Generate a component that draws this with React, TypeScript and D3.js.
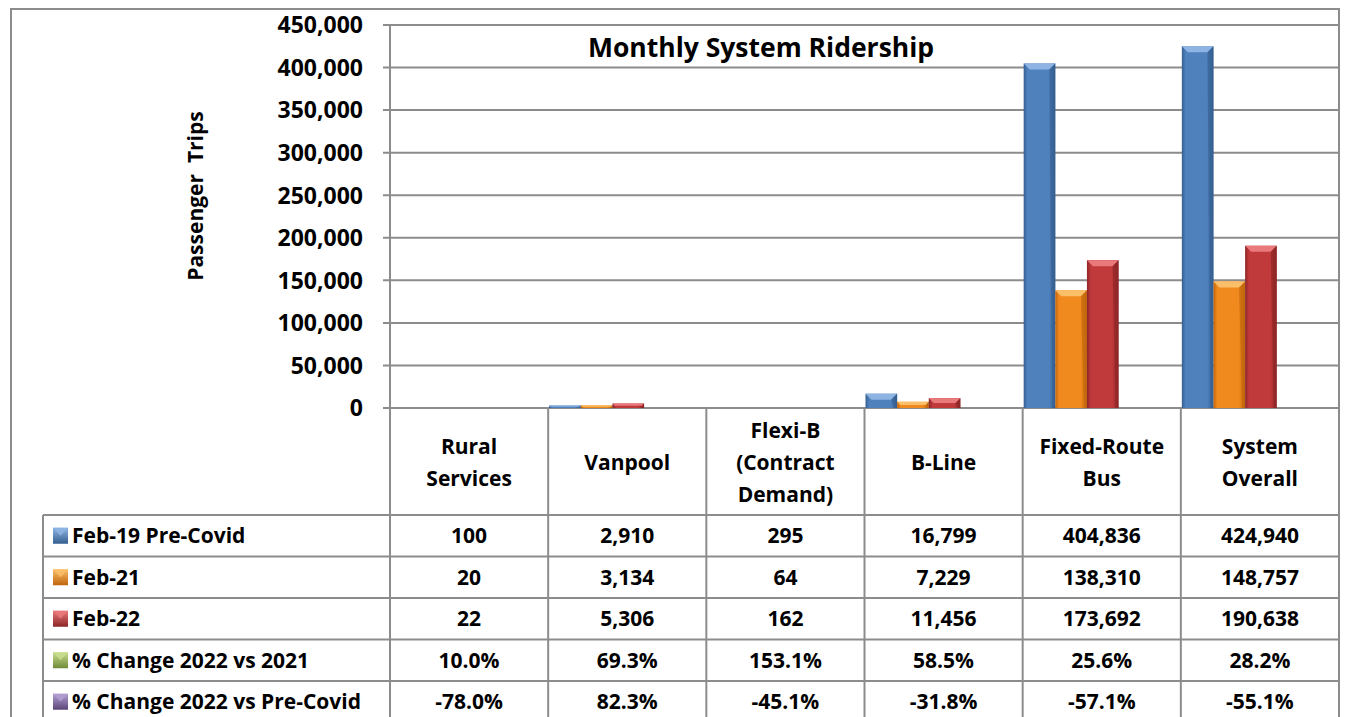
import * as d3 from 'd3'
import React, { useEffect, useRef } from 'react'

const categories = ['Rural Services', 'Vanpool', 'Flexi-B (Contract Demand)', 'B-Line', 'Fixed-Route Bus', 'System Overall']
const categoryLines = [['Rural', 'Services'], ['Vanpool'], ['Flexi-B', '(Contract', 'Demand)'], ['B-Line'], ['Fixed-Route', 'Bus'], ['System', 'Overall']]

const seriesNames = ['Feb-19 Pre-Covid', 'Feb-21', 'Feb-22']
const feb19 = [100, 2910, 295, 16799, 404836, 424940]
const feb21 = [20, 3134, 64, 7229, 138310, 148757]
const feb22 = [22, 5306, 162, 11456, 173692, 190638]

const changeNames = ['% Change 2022 vs 2021', '% Change 2022 vs Pre-Covid']
const change2221 = [10.0, 69.3, 153.1, 58.5, 25.6, 28.2]
const changePre = [-78.0, 82.3, -45.1, -31.8, -57.1, -55.1]

const yMax = 450000

// base, light, dark
const palette = [
  ['#4f81bd', '#8db4e3', '#365f91'],
  ['#f08a1e', '#fbbf6a', '#c0650c'],
  ['#c0393b', '#e9797a', '#8c2527'],
  ['#9bbb59', '#c8de8e', '#6f8a38'],
  ['#8064a2', '#b29fd0', '#5c4679']
]

const W = 1347
const H = 717
const plot = { left: 390, right: 1339, top: 25, bottom: 408 }
const tableLeft = 43
const headerBottom = 515
const rowH = 41.5
const tableBottom = 725
const grid = '#8c8c8c'
const font = '"Open Sans", Lato, sans-serif'

export default function App() {
  const ref = useRef<SVGSVGElement>(null)

  useEffect(() => {
    const svg = d3.select(ref.current)
    svg.selectAll('*').remove()
    renderChart(svg)
  }, [])

  return (
    <svg
      ref={ref}
      width={W}
      height={H}
      style={{ position: 'absolute', left: 0, top: 0, background: '#fff', display: 'block' }}
    />
  )
}

const renderChart = (svg: any) => {
  const x = d3.scaleBand().domain(categories).range([plot.left, plot.right])
  const xs = d3
    .scaleBand()
    .domain(seriesNames)
    .range([1, x.bandwidth() * 0.6 + 1])
  const y = d3.scaleLinear().domain([0, yMax]).range([plot.bottom, plot.top])
  const fmt = d3.format(',')
  const pct = (d: number) => d.toFixed(1) + '%'

  const defs = svg.append('defs')
  palette.forEach((c, i) => {
    const g = defs
      .append('linearGradient')
      .attr('id', 'bar' + i)
      .attr('x1', 0)
      .attr('x2', 1)
      .attr('y1', 0)
      .attr('y2', 0)
    g.append('stop').attr('offset', '0%').attr('stop-color', c[2])
    g.append('stop').attr('offset', '12%').attr('stop-color', c[0])
    g.append('stop').attr('offset', '45%').attr('stop-color', c[0])
    g.append('stop').attr('offset', '80%').attr('stop-color', c[0])
    g.append('stop').attr('offset', '100%').attr('stop-color', c[2])

    const m = defs
      .append('linearGradient')
      .attr('id', 'mark' + i)
      .attr('x1', 0)
      .attr('x2', 0)
      .attr('y1', 0)
      .attr('y2', 1)
    m.append('stop').attr('offset', '0%').attr('stop-color', c[1])
    m.append('stop').attr('offset', '100%').attr('stop-color', c[2])
  })

  // outer frame
  svg
    .append('rect')
    .attr('x', 11)
    .attr('y', 9)
    .attr('width', plot.right - 11)
    .attr('height', 800)
    .attr('fill', '#fff')
    .attr('stroke', grid)
    .attr('stroke-width', 2)

  // gridlines + ticks
  const ticks = y.ticks(10)
  svg
    .append('g')
    .selectAll('line')
    .data(ticks)
    .join('line')
    .attr('x1', plot.left - 7)
    .attr('x2', plot.right)
    .attr('y1', d => y(d))
    .attr('y2', d => y(d))
    .attr('stroke', grid)
    .attr('stroke-width', 2)

  svg
    .append('g')
    .selectAll('text')
    .data(ticks)
    .join('text')
    .attr('x', 363)
    .attr('y', d => y(d))
    .attr('dy', '0.36em')
    .attr('text-anchor', 'end')
    .style('font-family', font)
    .style('font-weight', 700)
    .style('font-size', '23px')
    .text(d => fmt(d))

  // title
  svg
    .append('text')
    .attr('x', 761)
    .attr('y', 47)
    .attr('dy', '0.36em')
    .attr('text-anchor', 'middle')
    .style('font-family', font)
    .style('font-weight', 700)
    .style('font-size', '26.5px')
    .text('Monthly System Ridership')

  // y axis title
  svg
    .append('text')
    .attr('transform', 'translate(195,196) rotate(-90)')
    .attr('text-anchor', 'middle')
    .attr('dy', '0.36em')
    .style('font-family', font)
    .style('font-weight', 700)
    .style('font-size', '21px')
    .style('white-space', 'pre')
    .text('Passenger  Trips')

  // bars
  const bars = [feb19, feb21, feb22]
  const barData = categories.flatMap((c, ci) =>
    seriesNames.map((s, si) => ({ c, s, si, v: bars[si][ci] }))
  )
  const bg = svg
    .append('g')
    .selectAll('g')
    .data(barData)
    .join('g')
    .attr('transform', d => `translate(${x(d.c)! + xs(d.s)!},0)`)

  bg.each(function (this: any, d: any) {
    const g = d3.select(this)
    const w = xs.bandwidth()
    const top = y(d.v)
    const h = plot.bottom - top
    if (h < 0.5) return
    const b = Math.min(6, h / 2)
    const c = palette[d.si]
    g.append('rect')
      .attr('x', 0)
      .attr('y', top)
      .attr('width', w)
      .attr('height', h)
      .attr('fill', `url(#bar${d.si})`)
    g.append('polygon')
      .attr('points', `0,${top} ${w},${top} ${w - b},${top + b} ${b},${top + b}`)
      .attr('fill', c[1])
    g.append('polygon')
      .attr('points', `${w},${top} ${w},${plot.bottom} ${w - 3},${plot.bottom} ${w - b},${top + b}`)
      .attr('fill', c[2])
      .attr('opacity', 0.6)
  })

  // table lines
  const cols = [...categories.map(c => x(c)!), plot.right]
  svg
    .append('g')
    .selectAll('line')
    .data(cols)
    .join('line')
    .attr('x1', d => d)
    .attr('x2', d => d)
    .attr('y1', (d, i) => (i === 0 ? plot.top : plot.bottom))
    .attr('y2', tableBottom)
    .attr('stroke', grid)
    .attr('stroke-width', 2)

  const rowLabels = [...seriesNames, ...changeNames]
  const rowTops = rowLabels.map((r, i) => headerBottom + i * rowH)
  svg
    .append('g')
    .selectAll('line')
    .data(rowTops)
    .join('line')
    .attr('x1', tableLeft)
    .attr('x2', plot.right)
    .attr('y1', d => d)
    .attr('y2', d => d)
    .attr('stroke', grid)
    .attr('stroke-width', 2)

  svg
    .append('line')
    .attr('x1', tableLeft)
    .attr('x2', tableLeft)
    .attr('y1', headerBottom)
    .attr('y2', tableBottom)
    .attr('stroke', grid)
    .attr('stroke-width', 2)

  // category headers
  const hdr = svg
    .append('g')
    .selectAll('text')
    .data(categories)
    .join('text')
    .attr('text-anchor', 'middle')
    .style('font-family', font)
    .style('font-weight', 700)
    .style('font-size', '21px')
  hdr.each(function (this: any, c: string, i: number) {
    const lines = categoryLines[i]
    const cx = x(c)! + x.bandwidth() / 2
    const cy = 462 - ((lines.length - 1) * 32) / 2
    d3.select(this)
      .selectAll('tspan')
      .data(lines)
      .join('tspan')
      .attr('x', cx)
      .attr('y', (l, k) => cy + k * 32)
      .attr('dy', '0.36em')
      .text(l => l)
  })

  // rows
  const rowValues = [
    feb19.map(fmt),
    feb21.map(fmt),
    feb22.map(fmt),
    change2221.map(pct),
    changePre.map(pct)
  ]
  const rows = svg
    .append('g')
    .selectAll('g')
    .data(rowLabels)
    .join('g')
    .attr('transform', (d, i) => `translate(0,${rowTops[i] + rowH / 2})`)

  rows
    .append('rect')
    .attr('x', 53)
    .attr('y', -8)
    .attr('width', 15)
    .attr('height', 16)
    .attr('fill', (d, i) => `url(#mark${i})`)
  rows
    .append('polygon')
    .attr('points', '53,-8 68,-8 60.5,0')
    .attr('fill', (d, i) => palette[i][1])
    .attr('opacity', 0.85)
  rows
    .append('text')
    .attr('x', 72)
    .attr('dy', '0.36em')
    .style('font-family', font)
    .style('font-weight', 700)
    .style('font-size', '21px')
    .text(d => d)

  rows.each(function (this: any, r: string, ri: number) {
    d3.select(this)
      .selectAll('text.v')
      .data(rowValues[ri])
      .join('text')
      .attr('class', 'v')
      .attr('x', (v, ci) => x(categories[ci])! + x.bandwidth() / 2)
      .attr('dy', '0.36em')
      .attr('text-anchor', 'middle')
      .style('font-family', font)
      .style('font-weight', 700)
      .style('font-size', '21px')
      .text(v => v)
  })
}
